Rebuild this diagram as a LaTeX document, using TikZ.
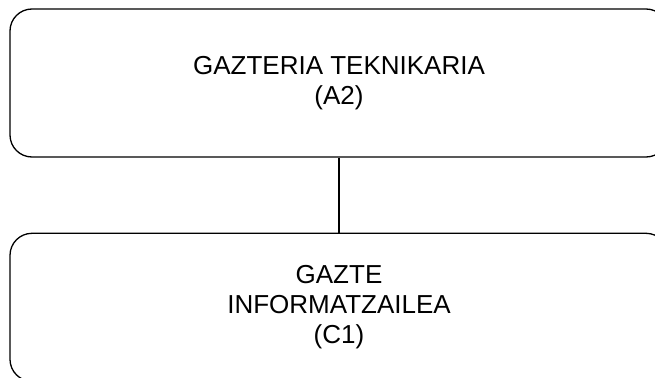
\documentclass[tikz,border=0pt]{standalone}
\usepackage{fontspec}
\setmainfont{Liberation Sans}
\usetikzlibrary{positioning}

\begin{document}
\begin{tikzpicture}[x=1pt, y=-1pt,
  postbox/.style={draw, rounded corners=22pt, line width=1.3pt, minimum width=658pt, minimum height=148pt, align=center, inner sep=0pt, font=\fontsize{26}{30}\selectfont},
  link/.style={line width=1.3pt}]
\useasboundingbox (0,0) rectangle (655,377);
\clip (0,0) rectangle (655,377);
\node[postbox] (teknikaria) at (339,83) {GAZTERIA TEKNIKARIA\\(A2)};
\node[postbox, below=75pt of teknikaria] (informatzailea) {GAZTE\\INFORMATZAILEA\\(C1)};
\draw[link] (teknikaria) -- (informatzailea);
\end{tikzpicture}
\end{document}
